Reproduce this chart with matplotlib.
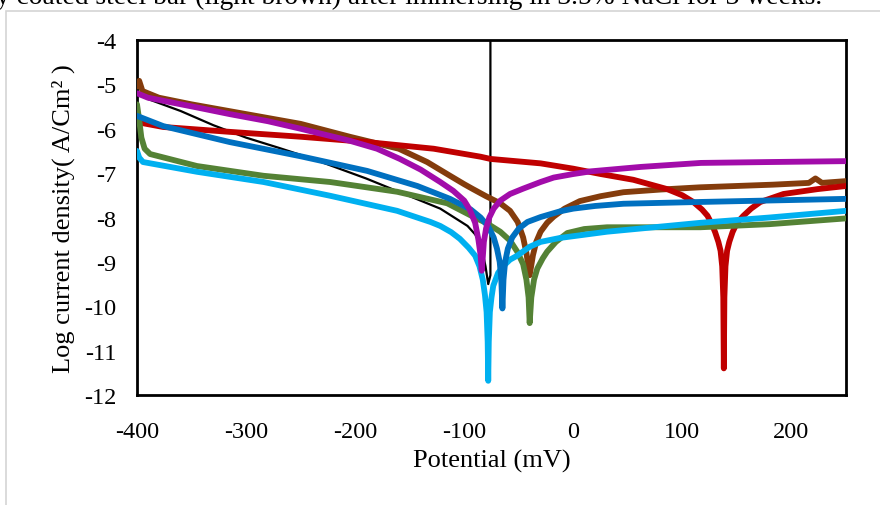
import matplotlib
matplotlib.use("Agg")
import matplotlib.pyplot as plt
from matplotlib.patches import Rectangle

plt.rcParams["font.family"] = ["Liberation Serif", "DejaVu Serif"]
plt.rcParams["axes.unicode_minus"] = False

# Tafel polarisation curves: potential (mV) vs log current density
black_x = [-400, -390, -360, -330, -300, -270, -240, -190, -160, -122, -97, -90, -86, -83, -80.5, -78, -76, -76]
black_y = [-5.17, -5.33, -5.6, -5.92, -6.2, -6.43, -6.67, -7.12, -7.42, -7.8, -8.19, -8.38, -8.55, -8.8, -9.1,
           -9.5, -9.3, -4.0]

brown_x = [-400, -398, -395, -380, -350, -300, -250, -205, -160, -134, -113, -100, -92, -80, -67, -58, -51, -46,
           -43, -40, -37, -34, -30, -24, -18, -8, 6, 25, 46, 80, 116, 183, 216, 222, 228, 250]
brown_y = [-5.05, -4.92, -5.15, -5.3, -5.45, -5.67, -5.89, -6.18, -6.45, -6.75, -7.06, -7.25, -7.36, -7.52, -7.68,
           -7.85, -8.1, -8.45, -8.8, -9.3, -8.85, -8.55, -8.32, -8.12, -7.98, -7.8, -7.63, -7.52, -7.43, -7.37,
           -7.32, -7.26, -7.22, -7.12, -7.22, -7.18]

red_x = [-400, -376, -315, -250, -189, -128, -85, -76, -30, 0, 25, 55, 86, 100, 110, 118, 123, 127, 130, 133,
         135, 136.5, 137.5, 138, 138.5, 139.5, 141, 143, 146, 150, 156, 163, 171.5, 192.7, 224, 250]
red_y = [-5.85, -5.96, -6.07, -6.18, -6.3, -6.45, -6.63, -6.68, -6.78, -6.9, -7.02, -7.15, -7.36, -7.5, -7.65,
         -7.82, -7.96, -8.15, -8.33, -8.55, -8.75, -9.1, -9.8, -11.4, -9.8, -9.1, -8.75, -8.55, -8.33, -8.12,
         -7.96, -7.8, -7.65, -7.47, -7.36, -7.29]

green_x = [-400, -398, -396, -393, -388, -345, -284, -223, -161.5, -115.6, -92, -80, -67, -58, -51.4, -46, -43,
           -41, -40, -38.5, -36, -33, -28, -24, -16, -5.5, 10, 31, 116.5, 180, 250]
green_y = [-5.45, -5.8, -6.2, -6.45, -6.57, -6.84, -7.06, -7.2, -7.42, -7.68, -7.98, -8.12, -8.32, -8.52, -8.77,
           -9.05, -9.4, -9.8, -10.38, -9.8, -9.4, -9.15, -8.92, -8.77, -8.55, -8.35, -8.26, -8.22, -8.22, -8.15,
           -8.02]

lblue_x = [-400, -398, -394.5, -345, -284, -223, -161.5, -131, -122, -112, -104, -96, -90, -86, -83, -81, -79.5,
           -78.5, -78, -77.5, -76.5, -75, -73.4, -69, -64, -58, -51.4, -40, -30, -12, 31, 116.5, 180, 250]
lblue_y = [-6.5, -6.65, -6.75, -6.97, -7.2, -7.51, -7.85, -8.1, -8.19, -8.33, -8.48, -8.68, -8.86, -9.1, -9.4,
           -9.75, -10.13, -10.8, -11.68, -10.8, -10.13, -9.8, -9.54, -9.25, -9.09, -8.95, -8.86, -8.66, -8.55,
           -8.46, -8.32, -8.12, -8.0, -7.85]

blue_x = [-400, -376, -315, -250, -189, -143, -113, -94, -85, -78, -73, -70, -67.5, -66, -65, -64, -62.5, -60,
          -56, -50, -42, -30, -12, 0, 20, 46, 116, 250]
blue_y = [-5.71, -5.94, -6.3, -6.62, -6.95, -7.29, -7.58, -7.82, -8.0, -8.2, -8.45, -8.7, -9.0, -9.4, -10.05,
          -9.4, -9.0, -8.7, -8.45, -8.25, -8.1, -7.99, -7.86, -7.8, -7.74, -7.69, -7.65, -7.58]

purple_x = [-400, -390, -376, -345, -315, -280, -250, -205, -180, -159, -140, -122, -110, -100, -95, -90, -87,
            -85, -84, -83, -82, -80, -77, -73, -67, -58, -46, -30, -18, 0, 16, 62, 117, 180, 250]
purple_y = [-5.2, -5.3, -5.37, -5.52, -5.67, -5.83, -6.0, -6.27, -6.45, -6.68, -6.92, -7.2, -7.4, -7.62, -7.82,
            -8.12, -8.5, -8.85, -9.2, -8.9, -8.55, -8.25, -8.0, -7.8, -7.62, -7.47, -7.35, -7.2, -7.1, -7.02,
            -6.96, -6.86, -6.77, -6.75, -6.73]

x_ticks = [-400, -300, -200, -100, 0, 100, 200]
y_ticks = [-12, -11, -10, -9, -8, -7, -6, -5, -4]

fig = plt.figure(figsize=(8.8, 5.06), dpi=100, facecolor="white")

# frame of the embedded chart and the caption line above it
fig.patches.append(Rectangle((6 / 880, -0.05), 1.0, 1 - 12 / 506 + 0.05, transform=fig.transFigure,
                             fill=False, edgecolor="#d4d4d4", linewidth=1.2))
fig.text(-0.004, 1 - 4 / 506, "y coated steel bar (light brown) after immersing in 3.5% NaCl for 3 weeks.",
         fontsize=19.8, va="baseline", ha="left", color="black")

ax = fig.add_axes([137 / 880, 1 - 396 / 506, (846 - 137) / 880, (396 - 41) / 506])

style = dict(linewidth=4.2, solid_capstyle="round", solid_joinstyle="round")
ax.plot(black_x, black_y, color="black", linewidth=1.6, solid_capstyle="round", zorder=2)
ax.plot(brown_x, brown_y, color="#843C0C", zorder=3, **style)
ax.plot(red_x, red_y, color="#C00000", zorder=4, **style)
ax.plot(green_x, green_y, color="#548235", zorder=5, **style)
ax.plot(lblue_x, lblue_y, color="#00B0F0", zorder=6, **style)
ax.plot(blue_x, blue_y, color="#0070C0", zorder=7, **style)
ax.plot(purple_x, purple_y, color="#A20CAA", zorder=8, **style)

ax.set_xlim(-400, 250)
ax.set_ylim(-12, -4)
ax.set_xticks(x_ticks)
ax.set_yticks(y_ticks)
ax.tick_params(length=0, labelsize=17.5, colors="black")
ax.tick_params(axis="y", pad=15)
ax.tick_params(axis="x", pad=19)
for spine in ax.spines.values():
    spine.set_color("black")
    spine.set_linewidth(2.0)

ax.set_xlabel("Potential (mV)", fontsize=19, labelpad=5)
ax.set_ylabel("Log current density( A/Cm² )", fontsize=19, labelpad=6)

fig.savefig("out.png", dpi=100, facecolor="white")
